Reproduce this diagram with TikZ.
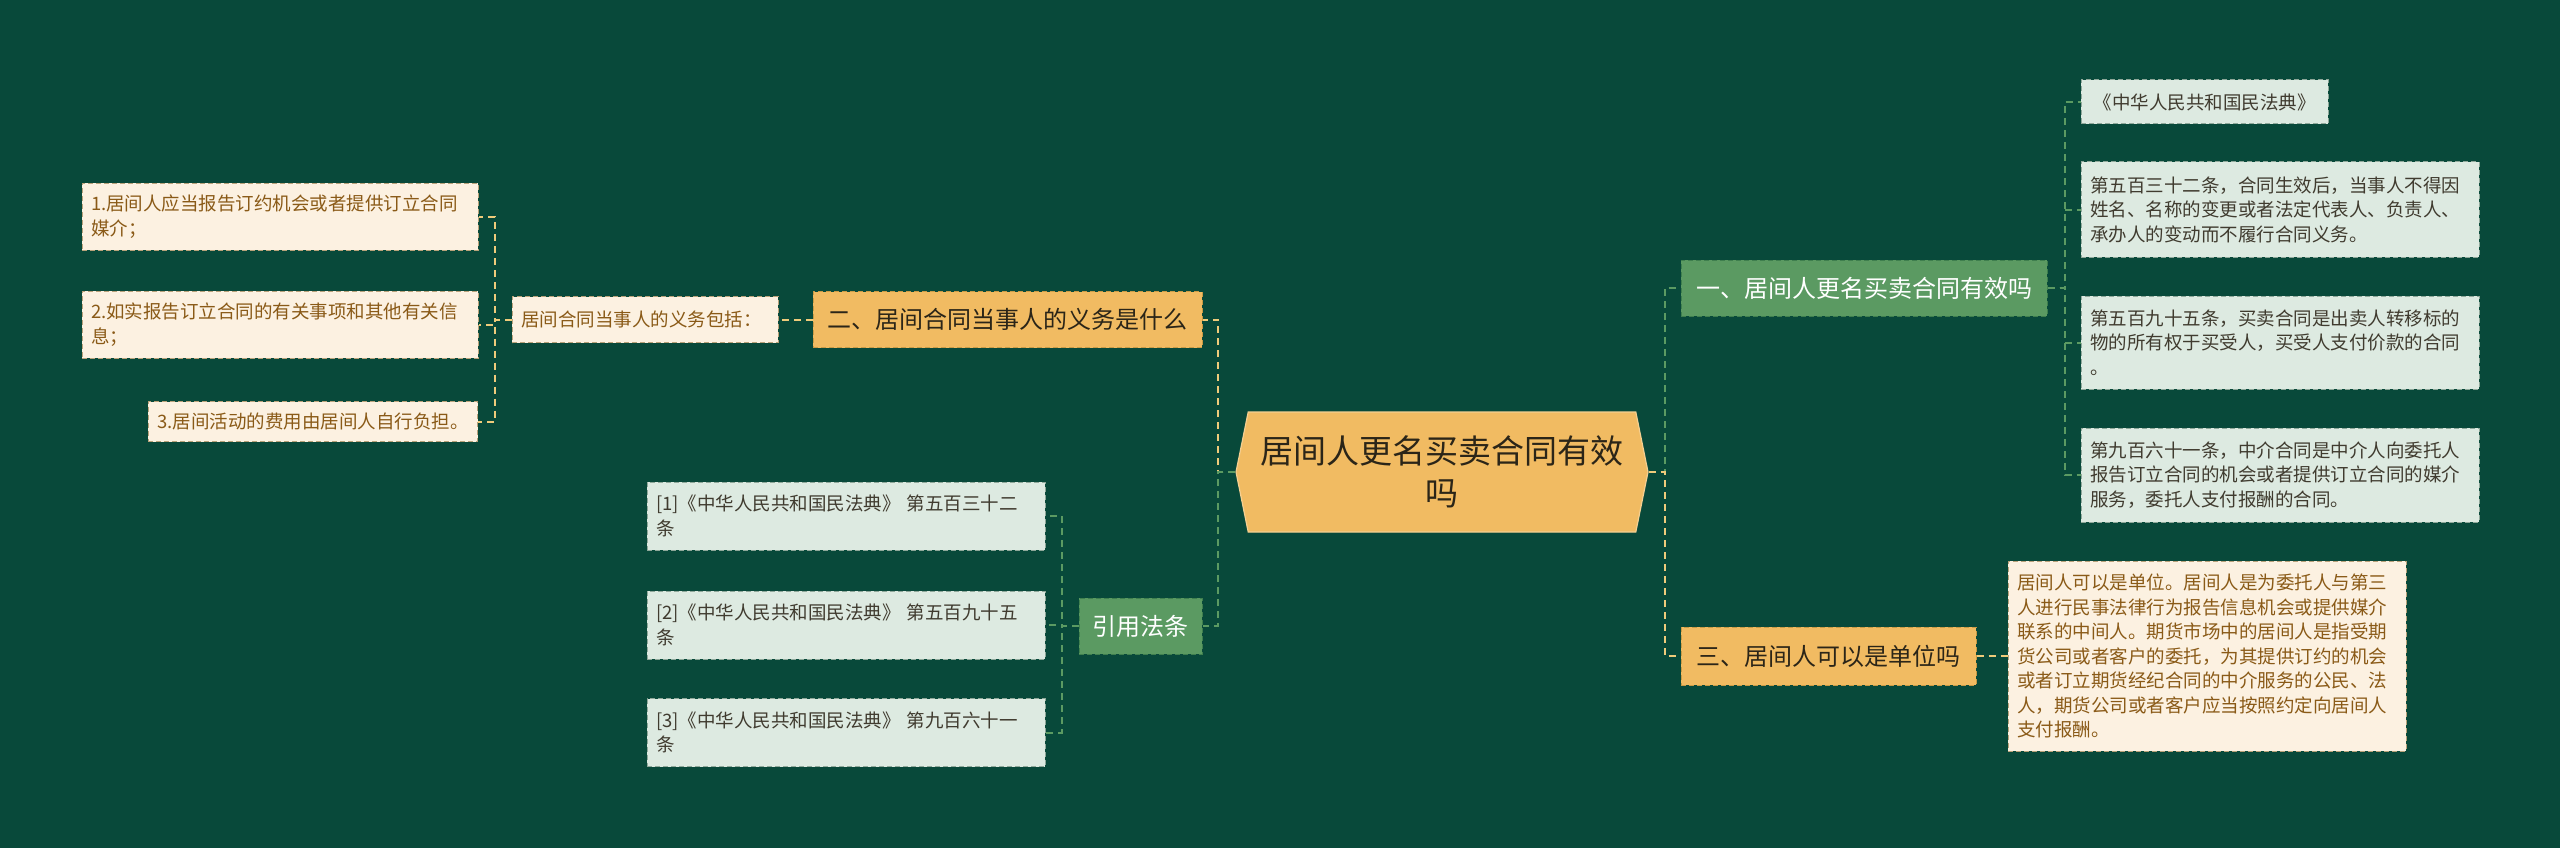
\documentclass[tikz,border=0pt]{standalone}
\usepackage{fontspec}
\setmainfont{Noto Sans CJK SC}
\usepackage{tikz}
\usetikzlibrary{shapes.symbols}

\definecolor{deepgreen}{HTML}{08493A}
\definecolor{goldfill}{HTML}{F1BB62}
\definecolor{goldedge}{HTML}{C99A45}
\definecolor{linkgold}{HTML}{EFCB7B}
\definecolor{leaffill}{HTML}{5B9A62}
\definecolor{leafedge}{HTML}{3F7F4E}
\definecolor{creamfill}{HTML}{FCF1E1}
\definecolor{creamedge}{HTML}{B9A27A}
\definecolor{creamink}{HTML}{8A5A17}
\definecolor{mintfill}{HTML}{DDEAE1}
\definecolor{mintedge}{HTML}{8FA89A}
\definecolor{inkdark}{HTML}{2B2518}

\begin{document}
\begin{tikzpicture}[x=1pt,y=-1pt,
  topic/.style={signal,signal to=west and east,signal pointer angle=157,
    fill=goldfill,draw=goldfill!70!white,line width=1.2pt,inner sep=0pt,
    minimum width=412pt,minimum height=120pt,align=center,text=inkdark,
    font=\fontsize{33}{42}\selectfont},
  goldtopic/.style={fill=goldfill,draw=goldedge,dash pattern=on 5pt off 3pt,line width=1pt,
    minimum height=56pt,text=inkdark,font=\fontsize{24}{30}\selectfont},
  greentopic/.style={fill=leaffill,draw=leafedge,dash pattern=on 5pt off 3pt,line width=1pt,
    minimum height=56pt,text=white,font=\fontsize{24}{30}\selectfont},
  creambox/.style={fill=creamfill,draw=creamedge,dash pattern=on 5pt off 3pt,line width=1pt,
    inner xsep=9pt,align=left,text=creamink,font=\fontsize{18.5}{24.5}\selectfont},
  mintbox/.style={fill=mintfill,draw=mintedge,dash pattern=on 5pt off 3pt,line width=1pt,
    inner xsep=9pt,align=left,text=inkdark!90,font=\fontsize{18.5}{24.5}\selectfont},
  goldlink/.style={draw=linkgold,line width=2pt,dash pattern=on 7pt off 5pt},
  greenlink/.style={draw=leaffill,line width=2pt,dash pattern=on 7pt off 5pt}]
  \fill[deepgreen] (0,0) rectangle (2560,848);

  \node[topic] (root) at (1442,472) {居间人更名买卖合同有效\\吗};

  \node[goldtopic,minimum width=389pt] (q2) at (1007.5,319.5) {二、居间合同当事人的义务是什么};
  \node[greentopic,minimum width=123pt] (cite) at (1140.5,626) {引用法条};
  \node[greentopic,minimum width=366pt] (q1) at (1864,288) {一、居间人更名买卖合同有效吗};
  \node[goldtopic,minimum width=295pt,minimum height=58pt] (q3) at (1828.5,656) {三、居间人可以是单位吗};

  \node[creambox,text width=248pt,minimum height=46pt] (duty) at (645,319.5) {居间合同当事人的义务包括：};
  \node[creambox,text width=378pt,minimum height=67pt] (d1) at (280,216.5) {1.居间人应当报告订约机会或者提供订立合同\\媒介；};
  \node[creambox,text width=378pt,minimum height=67pt] (d2) at (280,324.5) {2.如实报告订立合同的有关事项和其他有关信\\息；};
  \node[creambox,minimum height=40pt,anchor=east] (d3) at (478,421.5) {3.居间活动的费用由居间人自行负担。};

  \node[mintbox,text width=380pt,minimum height=68pt] (c1) at (846,516) {[1]《中华人民共和国民法典》 第五百三十二\\条};
  \node[mintbox,text width=380pt,minimum height=68pt] (c2) at (846,625) {[2]《中华人民共和国民法典》 第五百九十五\\条};
  \node[mintbox,text width=380pt,minimum height=68pt] (c3) at (846,732.5) {[3]《中华人民共和国民法典》 第九百六十一\\条};

  \node[mintbox,minimum width=247pt,minimum height=44pt,align=center] (r0) at (2204.5,102) {《中华人民共和国民法典》};
  \node[mintbox,text width=380pt,minimum height=95pt] (r1) at (2280,209.5) {第五百三十二条，合同生效后，当事人不得因\\姓名、名称的变更或者法定代表人、负责人、\\承办人的变动而不履行合同义务。};
  \node[mintbox,text width=380pt,minimum height=93pt] (r2) at (2280,342.5) {第五百九十五条，买卖合同是出卖人转移标的\\物的所有权于买受人，买受人支付价款的合同\\。};
  \node[mintbox,text width=380pt,minimum height=94pt] (r3) at (2280,475) {第九百六十一条，中介合同是中介人向委托人\\报告订立合同的机会或者提供订立合同的媒介\\服务，委托人支付报酬的合同。};

  \node[creambox,text width=380pt,minimum height=190pt] (r4) at (2207,656) {居间人可以是单位。居间人是为委托人与第三\\人进行民事法律行为报告信息机会或提供媒介\\联系的中间人。期货市场中的居间人是指受期\\货公司或者客户的委托，为其提供订约的机会\\或者订立期货经纪合同的中介服务的公民、法\\人，期货公司或者客户应当按照约定向居间人\\支付报酬。};

  \draw[goldlink] (root.west) -- ++(-17,0) |- (q2.east);
  \draw[greenlink] (root.west) -- ++(-17,0) |- (cite.east);
  \draw[greenlink] (root.east) -- ++(16,0) |- (q1.west);
  \draw[goldlink] (root.east) -- ++(16,0) |- (q3.west);
  \draw[goldlink] (q2.west) -- (duty.east);
  \foreach \d in {d1,d2,d3}
    \draw[goldlink] (duty.west) -- ++(-17,0) |- (\d.east);
  \foreach \c in {c1,c2,c3}
    \draw[greenlink] (cite.west) -- ++(-17,0) |- (\c.east);
  \foreach \r in {r0,r1,r2,r3}
    \draw[greenlink] (q1.east) -- ++(17,0) |- (\r.west);
  \draw[goldlink] (q3.east) -- (r4.west);
\end{tikzpicture}
\end{document}
